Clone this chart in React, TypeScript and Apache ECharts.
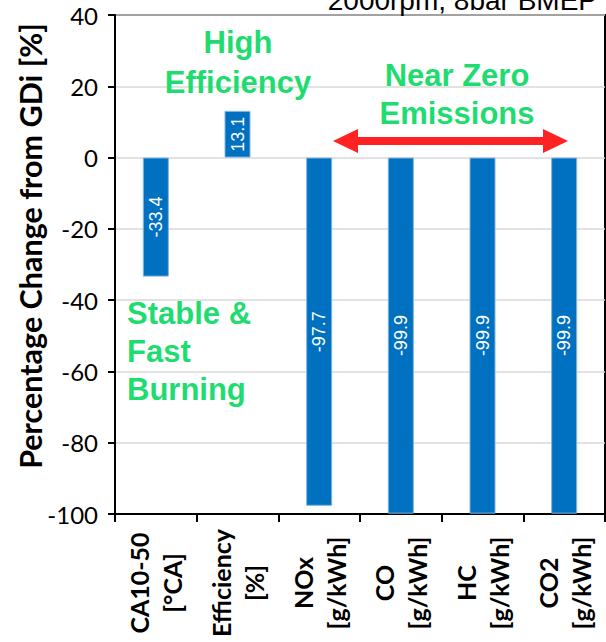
import React, { useEffect, useRef } from "react";
import * as echarts from "echarts";

const categories = [
  "CA10-50\n[°CA]",
  "Efficiency\n[%]",
  "NOx\n[g/kWh]",
  "CO\n[g/kWh]",
  "HC\n[g/kWh]",
  "CO2\n[g/kWh]",
];
const values = [-33.4, 13.1, -97.7, -99.9, -99.9, -99.9];
const yMin = -100;
const yMax = 40;
const yStep = 20;
const titleText = "2000rpm, 8bar BMEP";
const yAxisTitle = "Percentage Change from GDi [%]";
const noteEfficiency = "High\nEfficiency";
const noteEmissions = "Near Zero\nEmissions";
const noteBurning = "Stable &\nFast\nBurning";

const GREEN = "#1FDC70";
const RED = "#FF2222";
const BLUE = "#0070C0";

export default function App() {
  const ref = useRef<HTMLDivElement>(null);
  useEffect(() => {
    if (!ref.current) return;
    const chart = echarts.init(ref.current, undefined, { renderer: "svg" });
    const noteFont = {
      fontFamily: "Liberation Sans, Arial, sans-serif",
      fontWeight: "bold" as const,
      fontSize: 31,
      lineHeight: 38,
      fill: GREEN,
    };
    chart.setOption({
      animation: false,
      backgroundColor: "#fff",
      grid: {
        left: 115,
        right: 1,
        top: 15,
        bottom: 128,
        show: true,
        borderColor: "#000",
        borderWidth: 2,
      },
      xAxis: {
        type: "category",
        data: categories,
        axisLine: { onZero: false, lineStyle: { color: "#000", width: 2 } },
        axisTick: { show: true, length: 8, lineStyle: { color: "#000", width: 2 } },
        axisLabel: {
          interval: 0,
          rotate: 90,
          align: "center",
          verticalAlign: "middle",
          margin: 69,
          fontFamily: "Lato, sans-serif",
          fontWeight: "bold",
          fontSize: 25,
          lineHeight: 33,
          color: "#000",
        },
      },
      yAxis: {
        type: "value",
        min: yMin,
        max: yMax,
        interval: yStep,
        axisLine: { show: true, lineStyle: { color: "#000", width: 2 } },
        axisTick: { show: true, length: 7, lineStyle: { color: "#000", width: 2 } },
        axisLabel: {
          margin: 17,
          fontFamily: "Lato, sans-serif",
          fontSize: 24,
          color: "#000",
        },
        splitLine: { show: true, lineStyle: { color: "#D9D9D9", width: 1.5 } },
      },
      series: [
        {
          type: "bar",
          data: values,
          barWidth: 26,
          itemStyle: { color: BLUE, borderColor: "#7FB2E0", borderWidth: 1 },
          label: {
            show: true,
            position: "inside",
            rotate: 90,
            color: "#fff",
            fontFamily: "Liberation Sans, Arial, sans-serif",
            fontSize: 18,
            formatter: (p: any) => p.value.toFixed(1),
          },
        },
      ],
      graphic: [
        {
          type: "text",
          x: 30,
          y: 246,
          rotation: Math.PI / 2,
          style: {
            text: yAxisTitle,
            align: "center",
            verticalAlign: "middle",
            fontFamily: "Lato, sans-serif",
            fontWeight: "bold",
            fontSize: 30.5,
            fill: "#000",
          },
          z: 10,
        },
        {
          type: "text",
          x: 597,
          y: 0,
          style: {
            text: titleText,
            align: "right",
            verticalAlign: "middle",
            fontFamily: "Liberation Sans, Arial, sans-serif",
            fontSize: 28,
            fill: "#000",
          },
          z: 10,
        },
        {
          type: "text",
          x: 238,
          y: 62,
          style: { ...noteFont, text: noteEfficiency, lineHeight: 40, align: "center", verticalAlign: "middle" },
          z: 10,
        },
        {
          type: "text",
          x: 457,
          y: 94,
          style: { ...noteFont, text: noteEmissions, align: "center", verticalAlign: "middle" },
          z: 10,
        },
        {
          type: "text",
          x: 127,
          y: 351,
          style: { ...noteFont, text: noteBurning, align: "left", verticalAlign: "middle" },
          z: 10,
        },
        {
          type: "line",
          shape: { x1: 352, y1: 141, x2: 549, y2: 141 },
          style: { stroke: RED, lineWidth: 8 },
          z: 10,
        },
        {
          type: "polygon",
          shape: { points: [[333, 141], [358, 129], [358, 153]] },
          style: { fill: RED },
          z: 10,
        },
        {
          type: "polygon",
          shape: { points: [[568, 141], [543, 129], [543, 153]] },
          style: { fill: RED },
          z: 10,
        },
      ],
    });
    return () => chart.dispose();
  }, []);
  return (
    <div
      ref={ref}
      style={{ position: "fixed", left: 0, top: 0, width: 606, height: 642 }}
    />
  );
}
